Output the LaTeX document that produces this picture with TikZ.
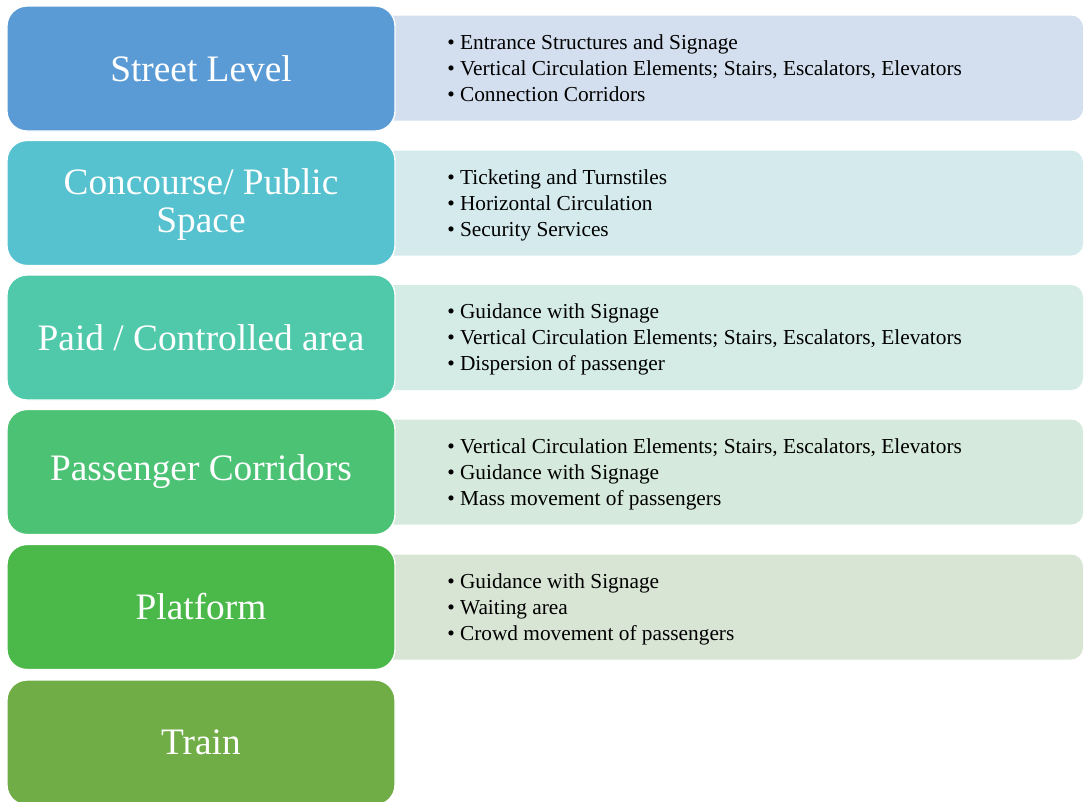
\documentclass[tikz,border=0pt]{standalone}
\usepackage{fontspec}
\setmainfont{Liberation Serif}
\definecolor{streetblue}{HTML}{5B9BD5}
\definecolor{streetpale}{HTML}{D3DFEE}
\definecolor{concourseteal}{HTML}{56C1CF}
\definecolor{concoursepale}{HTML}{D4EAED}
\definecolor{paidmint}{HTML}{50C9AA}
\definecolor{paidpale}{HTML}{D5EBE5}
\definecolor{corridorgreen}{HTML}{4BC274}
\definecolor{corridorpale}{HTML}{D5E9DC}
\definecolor{platformgreen}{HTML}{4BB94A}
\definecolor{platformpale}{HTML}{D8E4D4}
\definecolor{trainolive}{HTML}{70AD47}
\begin{document}
\begin{tikzpicture}[x=0.75pt,y=-0.75pt,
        level/.style={rounded corners=15pt,draw=white,line width=1pt,minimum width=291pt,minimum height=93.75pt,
                      inner sep=0pt,text=white,align=center,font=\fontsize{28}{28.5}\selectfont},
        info/.style={rounded corners=9pt,minimum width=534.75pt,minimum height=78.75pt,inner sep=0pt},
        items/.style={anchor=west,align=left,inner sep=0pt,font=\fontsize{16}{19.5}\selectfont}]
        \useasboundingbox (0,0) rectangle (1084,801);
        \clip (0,0) rectangle (1084,801);
        % pale strips first, the coloured levels sit on their left ends
        \node[info,fill=streetpale] (streetinfo) at (726.5,68) {};
        \node[info,fill=concoursepale] (concourseinfo) at (726.5,203) {};
        \node[info,fill=paidpale] (paidinfo) at (726.5,337.5) {};
        \node[info,fill=corridorpale] (corridorinfo) at (726.5,472) {};
        \node[info,fill=platformpale] (platforminfo) at (726.5,607) {};
        \node[level,fill=streetblue] (street) at (201,68.5) {Street Level};
        \node[level,fill=concourseteal,text depth=3pt] (concourse) at (201,203) {Concourse/ Public\\Space};
        \node[level,fill=paidmint] (paid) at (201,337.5) {Paid / Controlled area};
        \node[level,fill=corridorgreen] (corridor) at (201,472) {Passenger Corridors};
        \node[level,fill=platformgreen] (platform) at (201,607) {Platform};
        \node[level,fill=trainolive] (train) at (201,742.5) {Train};
        % bullet lists
        \node[items] (streetlist) at (447,68) {\textbullet~Entrance Structures and Signage\\
                \textbullet~Vertical Circulation Elements; Stairs, Escalators, Elevators\\
                \textbullet~Connection Corridors};
        \node[items] (concourselist) at (447,205) {\textbullet~Ticketing and Turnstiles\\
                \textbullet~Horizontal Circulation\\
                \textbullet~Security Services};
        \node[items] (paidlist) at (447,339.5) {\textbullet~Guidance with Signage\\
                \textbullet~Vertical Circulation Elements; Stairs, Escalators, Elevators\\
                \textbullet~Dispersion of passenger};
        \node[items] (corridorlist) at (447,474) {\textbullet~Vertical Circulation Elements; Stairs, Escalators, Elevators\\
                \textbullet~Guidance with Signage\\
                \textbullet~Mass movement of passengers};
        \node[items] (platformlist) at (447,609) {\textbullet~Guidance with Signage\\
                \textbullet~Waiting area\\
                \textbullet~Crowd movement of passengers};
\end{tikzpicture}
\end{document}
